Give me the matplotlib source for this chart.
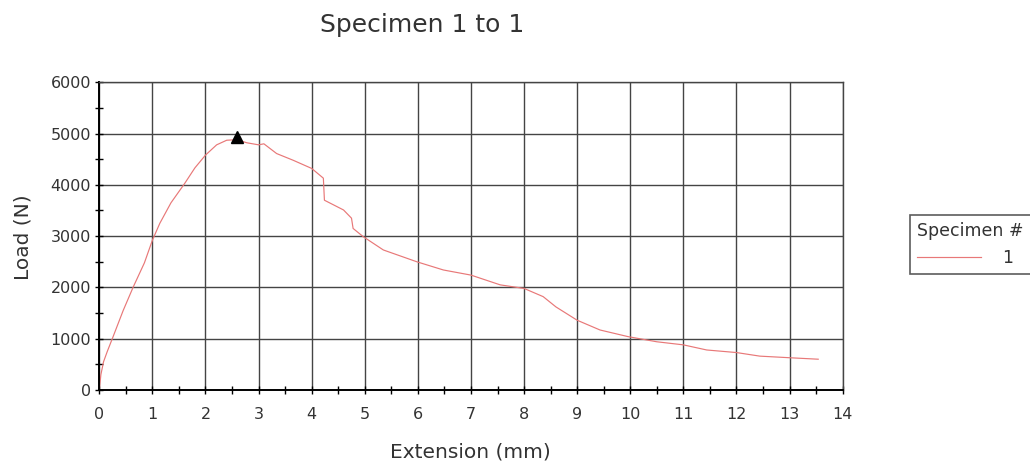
import matplotlib
matplotlib.use("Agg")
import matplotlib.pyplot as plt
from matplotlib.ticker import MultipleLocator

title = "Specimen 1 to 1"
x_label = "Extension (mm)"
y_label = "Load (N)"
series_name = "1"
legend_title = "Specimen #"

extension = [0.0, 0.03, 0.08, 0.15, 0.26, 0.45, 0.64, 0.85, 1.0, 1.14, 1.35, 1.61, 1.8, 2.0, 2.21, 2.4,
             2.59, 2.78, 3.0, 3.1, 3.34, 3.65, 4.0, 4.22, 4.24, 4.6, 4.75, 4.78, 4.97, 5.35, 5.98,
             6.48, 7.0, 7.55, 8.0, 8.36, 8.6, 9.0, 9.43, 9.96, 10.5, 11.0, 11.44, 12.0, 12.44,
             12.98, 13.54]
load = [0, 300, 550, 750, 1040, 1550, 2010, 2480, 2920, 3250, 3650, 4030, 4330, 4580, 4780, 4870,
        4880, 4820, 4780, 4800, 4610, 4480, 4320, 4130, 3700, 3510, 3350, 3150, 2990, 2730, 2500,
        2340, 2240, 2050, 1980, 1820, 1620, 1360, 1170, 1040, 940, 880, 780, 730, 660,
        630, 600]
peak_x = [2.59]
peak_y = [4940]

fig = plt.figure(figsize=(10.3, 4.68), dpi=100)
ax = fig.add_axes([0.0964, 0.1667, 0.7217, 0.6575])

ax.plot(extension, load, color="#e87878", linewidth=0.85, label=series_name)
ax.plot(peak_x, peak_y, marker="^", color="black", markersize=8.5, linestyle="none")

ax.set_xlim(0, 14)
ax.set_ylim(0, 6000)
ax.xaxis.set_major_locator(MultipleLocator(1))
ax.xaxis.set_minor_locator(MultipleLocator(0.5))
ax.yaxis.set_major_locator(MultipleLocator(1000))
ax.yaxis.set_minor_locator(MultipleLocator(500))
ax.grid(True, which="major", color="#444444", linewidth=1.0)
ax.set_axisbelow(True)
ax.tick_params(which="both", direction="inout", color="black", labelsize=11.5, labelcolor="#333333")
ax.tick_params(which="both", length=6, width=1)
ax.tick_params(axis="x", which="major", pad=9)
ax.tick_params(axis="y", which="major", pad=3)
for s in ["left", "bottom"]:
    ax.spines[s].set_linewidth(1.4)
    ax.spines[s].set_color("black")
for s in ["top", "right"]:
    ax.spines[s].set_linewidth(1.0)
    ax.spines[s].set_color("#444444")

fig.text(0.457, 1 - 458 / 468, x_label, fontsize=14.5, color="#333333", ha="center", va="baseline")
fig.text(23 / 1030, 1 - 237 / 468, y_label, fontsize=14.5, color="#333333", ha="center", va="center",
         rotation=90)
fig.text(422 / 1030, 1 - 32 / 468, title, fontsize=18, color="#333333", ha="center", va="baseline")

handles = [ax.lines[0]]
leg_top = 1 - 215 / 468
leg = fig.legend(handles, [series_name], title=legend_title, loc="upper left",
                 bbox_to_anchor=(910 / 1030, leg_top - 0.3, 0.16, 0.3), mode="expand",
                 fontsize=12.5, title_fontsize=12.5,
                 frameon=True, fancybox=False, edgecolor="#333333", borderpad=0.4,
                 handlelength=3.7, labelspacing=0.55, handletextpad=1.2, borderaxespad=0)
leg.get_frame().set_linewidth(1.2)
leg.get_title().set_color("#333333")
for t in leg.get_texts():
    t.set_color("#333333")
leg._legend_box.align = "left"

fig.savefig("out.png", dpi=100)
